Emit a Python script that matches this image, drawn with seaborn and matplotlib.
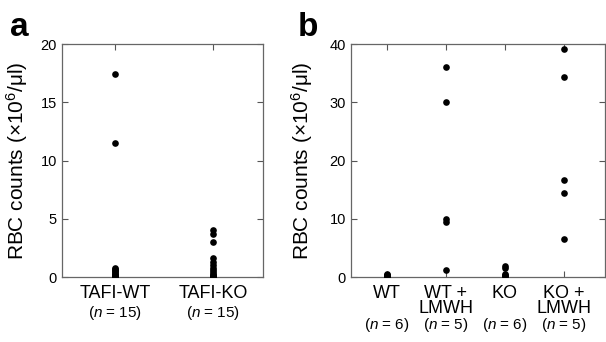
import pandas as pd
import matplotlib
matplotlib.use('Agg')
import matplotlib.pyplot as plt
import seaborn as sns

# Panel a data (RBC counts x10^6/ul)
groups_a = ['TAFI-WT', 'TAFI-KO']
n_a = [15, 15]
tafi_wt = [17.4, 11.5, 0.8, 0.7, 0.6, 0.5, 0.4, 0.3, 0.3, 0.2, 0.1, 0.1, 0.0, 0.0, 0.0]
tafi_ko = [4.0, 3.7, 3.0, 1.6, 1.3, 1.0, 0.8, 0.6, 0.4, 0.3, 0.2, 0.1, 0.0, 0.0, 0.0]

# Panel b data
groups_b = ['WT', 'WT +\nLMWH', 'KO', 'KO +\nLMWH']
n_b = [6, 5, 6, 5]
wt = [0.5, 0.4, 0.3, 0.2, 0.2, 0.1]
wt_lmwh = [36.0, 30.0, 9.9, 9.5, 1.2]
ko = [1.9, 1.6, 0.6, 0.4, 0.2, 0.1]
ko_lmwh = [39.2, 34.3, 16.7, 14.5, 6.6]

sns.set_style('white')
plt.rcParams['font.family'] = ['Liberation Sans', 'DejaVu Sans']
plt.rcParams['mathtext.fontset'] = 'custom'
plt.rcParams['mathtext.rm'] = 'Liberation Sans'
plt.rcParams['mathtext.it'] = 'Liberation Sans:italic'
plt.rcParams['text.color'] = 'black'
plt.rcParams['axes.labelcolor'] = 'black'

df_a = pd.DataFrame({
    'group': [groups_a[0]] * len(tafi_wt) + [groups_a[1]] * len(tafi_ko),
    'rbc': tafi_wt + tafi_ko,
})
df_b = pd.DataFrame({
    'group': ([groups_b[0]] * len(wt) + [groups_b[1]] * len(wt_lmwh)
              + [groups_b[2]] * len(ko) + [groups_b[3]] * len(ko_lmwh)),
    'rbc': wt + wt_lmwh + ko + ko_lmwh,
})

fig = plt.figure(figsize=(6.06, 3.42), dpi=100)
ax_a = fig.add_axes([0.102, 0.190, 0.332, 0.681])
ax_b = fig.add_axes([0.579, 0.190, 0.419, 0.681])

ylabel = 'RBC counts (×10$^{6}$/μl)'


def style(ax, groups, ns, xlim, ylim, yticks, lab_x, line2_y):
    ax.set_xlim(*xlim)
    ax.set_ylim(*ylim)
    ax.set_yticks(yticks)
    ax.set_xticks(range(len(groups)))
    ax.set_xticklabels(groups, fontsize=13, linespacing=0.85)
    ax.tick_params(axis='y', labelsize=10.5)
    ax.tick_params(direction='in', length=4, width=0.8, color='#555555',
                   labelcolor='black',
                   top=True, right=True, bottom=True, left=True)
    ax.tick_params(axis='x', pad=6)
    for s in ax.spines.values():
        s.set_color('#666666')
        s.set_linewidth(0.9)
    ax.set_xlabel('')
    ax.set_ylabel(ylabel, fontsize=15)
    ax.yaxis.set_label_coords(lab_x, 0.5)
    for i, n in enumerate(ns):
        ax.text(i, line2_y, '($\\mathit{n}$ = %d)' % n, fontsize=11,
                ha='center', va='center', transform=ax.get_xaxis_transform())


sns.stripplot(data=df_a, x='group', y='rbc', order=groups_a, jitter=False,
              color='black', size=4.8, linewidth=0, ax=ax_a)
style(ax_a, groups_a, n_a, (-0.54, 1.51), (0, 20), [0, 5, 10, 15, 20], -0.16, -0.155)

sns.stripplot(data=df_b, x='group', y='rbc', order=groups_b, jitter=False,
              color='black', size=4.8, linewidth=0, ax=ax_b)
style(ax_b, groups_b, n_b, (-0.61, 3.69), (0, 40), [0, 10, 20, 30, 40], -0.14, -0.205)

fig.text(0.016, 0.965, 'a', fontsize=24, fontweight='bold', va='top')
fig.text(0.492, 0.965, 'b', fontsize=24, fontweight='bold', va='top')

fig.savefig('out.png', dpi=100)
